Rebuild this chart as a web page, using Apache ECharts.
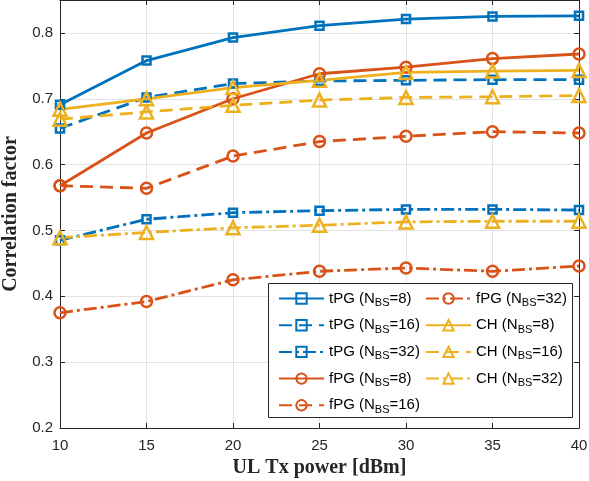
<!DOCTYPE html>
<html>
<head>
<meta charset="utf-8">
<script src="https://cdn.jsdelivr.net/npm/echarts@6/dist/echarts.min.js"></script>
<style>
  html, body { margin: 0; padding: 0; background: #fff; }
  #chart { width: 589px; height: 481px; }
</style>
</head>
<body>
<div id="chart"></div>
<script>
// UL transmit power levels (dBm)
const powers = [10, 15, 20, 25, 30, 35, 40];

// Correlation factor per method and number of BS antennas
const tPG8  = [0.691, 0.758, 0.793, 0.811, 0.821, 0.825, 0.826];
const tPG16 = [0.655, 0.702, 0.723, 0.727, 0.728, 0.729, 0.729];
const tPG32 = [0.485, 0.517, 0.527, 0.530, 0.532, 0.532, 0.531];
const fPG8  = [0.568, 0.648, 0.700, 0.738, 0.748, 0.761, 0.768];
const fPG16 = [0.568, 0.564, 0.613, 0.635, 0.643, 0.650, 0.648];
const fPG32 = [0.375, 0.392, 0.425, 0.438, 0.443, 0.438, 0.446];
const CH8   = [0.684, 0.700, 0.717, 0.728, 0.740, 0.742, 0.743];
const CH16  = [0.669, 0.680, 0.690, 0.698, 0.702, 0.703, 0.705];
const CH32  = [0.489, 0.497, 0.504, 0.508, 0.513, 0.514, 0.514];

const names = [
  'tPG (NBS=8)', 'tPG (NBS=16)', 'tPG (NBS=32)',
  'fPG (NBS=8)', 'fPG (NBS=16)', 'fPG (NBS=32)',
  'CH (NBS=8)', 'CH (NBS=16)', 'CH (NBS=32)'
];
const values = [tPG8, tPG16, tPG32, fPG8, fPG16, fPG32, CH8, CH16, CH32];

const BLUE = '#0072BD', ORANGE = '#D95319', YELLOW = '#EDB120';
const AXIS = '#262626';
const SANS = 'Liberation Sans';
const SERIF = 'Liberation Serif';

const SOLID = 'solid';
const DASHED = [13, 7];
const DASHDOT = [13, 4, 3, 4];

const styles = [
  { color: BLUE,   dash: SOLID,   symbol: 'rect',     size: 8 },
  { color: BLUE,   dash: DASHED,  symbol: 'rect',     size: 8 },
  { color: BLUE,   dash: DASHDOT, symbol: 'rect',     size: 8 },
  { color: ORANGE, dash: SOLID,   symbol: 'circle',   size: 11 },
  { color: ORANGE, dash: DASHED,  symbol: 'circle',   size: 11 },
  { color: ORANGE, dash: DASHDOT, symbol: 'circle',   size: 11 },
  { color: YELLOW, dash: SOLID,   symbol: 'triangle', size: 13 },
  { color: YELLOW, dash: DASHED,  symbol: 'triangle', size: 13 },
  { color: YELLOW, dash: DASHDOT, symbol: 'triangle', size: 13 }
];

const series = names.map((name, i) => ({
  name: name,
  type: 'line',
  xAxisIndex: 0,
  yAxisIndex: 0,
  data: powers.map((p, k) => [p, values[i][k]]),
  symbol: styles[i].symbol,
  symbolSize: styles[i].size,
  showSymbol: true,
  lineStyle: { color: styles[i].color, width: 2.8, type: styles[i].dash },
  itemStyle: { color: 'rgba(255,255,255,0)', borderColor: styles[i].color, borderWidth: 2.5 },
  emphasis: { disabled: true },
  z: 2
}));

const legendText = {
  fontFamily: SANS,
  fontSize: 15,
  color: '#000',
  rich: {
    n: { fontFamily: SANS, fontSize: 15, color: '#000', lineHeight: 20 },
    s: { fontFamily: SANS, fontSize: 11, color: '#000', lineHeight: 20, verticalAlign: 'bottom' }
  }
};
const legendFmt = name => {
  const parts = name.split('NBS');
  return '{n|' + parts[0] + 'N}{s|BS}{n|' + parts[1] + '}';
};
const legendBase = {
  orient: 'vertical',
  itemWidth: 45,
  itemHeight: 13,
  itemGap: 9.2,
  padding: 0,
  textStyle: legendText,
  formatter: legendFmt,
  selectedMode: false
};

const axisCommon = {
  axisLine: { show: true, onZero: false, lineStyle: { color: AXIS, width: 1 } },
  axisTick: { show: true, inside: true, length: 5, lineStyle: { color: AXIS, width: 1 } }
};

const option = {
  animation: false,
  backgroundColor: '#fff',
  grid: { left: 60, right: 10, top: 0, bottom: 53, containLabel: false, outerBoundsMode: 'none' },
  xAxis: [
    Object.assign({
      type: 'value', min: 10, max: 40, interval: 5, position: 'bottom',
      axisLabel: { fontFamily: SANS, fontSize: 15, color: AXIS, margin: 10 },
      splitLine: { show: true, lineStyle: { color: '#e3e3e3', width: 1 } },
      name: 'UL Tx power [dBm]', nameLocation: 'middle', nameGap: 28,
      nameTextStyle: { fontFamily: SERIF, fontWeight: 'bold', fontSize: 20, color: AXIS }
    }, axisCommon),
    Object.assign({
      type: 'value', min: 10, max: 40, interval: 5, position: 'top',
      axisLabel: { show: false }, splitLine: { show: false }
    }, axisCommon)
  ],
  yAxis: [
    Object.assign({
      type: 'value', min: 0.2, max: 0.85, interval: 0.1, position: 'left',
      axisLabel: { fontFamily: SANS, fontSize: 15, color: AXIS, margin: 7, showMaxLabel: false,
                   formatter: v => v.toFixed(1) },
      splitLine: { show: true, lineStyle: { color: '#e3e3e3', width: 1 } },
      name: 'Correlation factor', nameLocation: 'middle', nameGap: 28,
      nameTextStyle: { fontFamily: SERIF, fontWeight: 'bold', fontSize: 20, color: AXIS }
    }, axisCommon),
    Object.assign({
      type: 'value', min: 0.2, max: 0.85, interval: 0.1, position: 'right',
      axisLabel: { show: false }, splitLine: { show: false }
    }, axisCommon)
  ],
  legend: [
    Object.assign({ left: 278, top: 291, data: names.slice(0, 5) }, legendBase),
    Object.assign({ left: 425, top: 291, data: names.slice(5) }, legendBase)
  ],
  graphic: [{
    type: 'rect',
    z: 3,
    shape: { x: 268.5, y: 283.5, width: 304, height: 134 },
    style: { fill: '#fff', stroke: AXIS, lineWidth: 1 }
  }],
  series: series
};

const chart = echarts.init(document.getElementById('chart'), null, { renderer: 'canvas' });
chart.setOption(option);
</script>
</body>
</html>
